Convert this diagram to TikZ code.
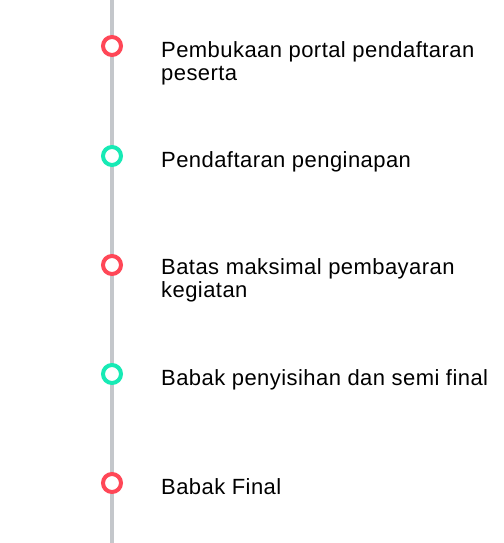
\documentclass[tikz,border=0pt]{standalone}
\usepackage{fontspec}
\setmainfont[LetterSpace=2]{Liberation Sans}
\usepackage{tikz}
\usetikzlibrary{positioning}
\definecolor{dotred}{HTML}{FF4757}
\definecolor{dotgreen}{HTML}{17EAB5}
\definecolor{railgray}{HTML}{C4C7CB}
\tikzset{
  dot/.style={circle, draw=#1, fill=white, line width=4pt, minimum size=18pt, inner sep=0pt},
  label text/.style={anchor=base west, inner sep=0pt, align=left, font=\fontsize{22}{23}\selectfont},
}

\begin{document}
\begin{tikzpicture}[x=1pt, y=-1pt]
    \useasboundingbox (0,0) rectangle (503,543);
    % define rail ends
    \coordinate (rail_top) at (112,0);
    \coordinate (rail_bottom) at (112,543);
    \draw[railgray, line width=4pt] (rail_top) -- (rail_bottom);
    % events
    \node[dot=dotred] (ev1) at (112,46) {};
    \node[dot=dotgreen] (ev2) at (112,156) {};
    \node[dot=dotred] (ev3) at (112,265) {};
    \node[dot=dotgreen] (ev4) at (112,374) {};
    \node[dot=dotred] (ev5) at (112,483) {};
    % add labels (base is the last line)
    \node[label text] (lab1) at (161,80) {Pembukaan portal pendaftaran\\peserta};
    \node[label text] (lab2) at (161,167) {Pendaftaran penginapan};
    \node[label text] (lab3) at (161,297) {Batas maksimal pembayaran\\kegiatan};
    \node[label text] (lab4) at (161,385) {Babak penyisihan dan semi final};
    \node[label text] (lab5) at (161,494) {Babak Final};
\end{tikzpicture}
\end{document}
